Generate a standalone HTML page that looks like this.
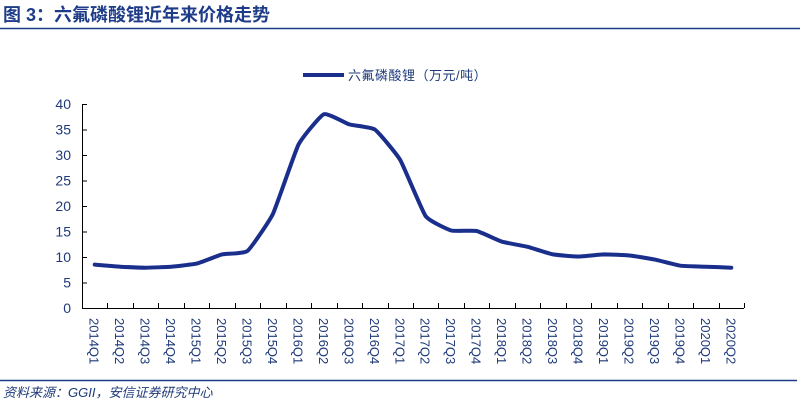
<!DOCTYPE html>
<html><head><meta charset="utf-8"><style>
body{margin:0;background:#fff;width:800px;height:407px;overflow:hidden;font-family:"Liberation Sans","Noto Sans CJK SC",sans-serif}
</style></head><body>
<svg id="s" width="800" height="407" xmlns="http://www.w3.org/2000/svg">
<text x="3" y="21" font-size="18" font-weight="bold" fill="#1f3c88" font-family="Liberation Sans, Noto Sans CJK SC, sans-serif">图 3：六氟磷酸锂近年来价格走势</text>
<line x1="0" y1="28.5" x2="800" y2="28.5" stroke="#1f3c88" stroke-width="1.5"/>
<line x1="303" y1="75" x2="344" y2="75" stroke="#1a2e8c" stroke-width="4"/>
<text x="348" y="80" font-size="13" fill="#1f3a7a" letter-spacing="0.5" font-family="Liberation Sans, Noto Sans CJK SC, sans-serif">六氟磷酸锂（万元/吨）</text>
<g id="ax" stroke="#000" stroke-width="1"></g>
<g id="lbl" fill="#1f3a7a" font-size="14"></g>
<path id="pl" fill="none" stroke="#1a2e8c" stroke-width="4" stroke-linejoin="round" stroke-linecap="round"/>
<line x1="0" y1="380.5" x2="797" y2="380.5" stroke="#1f3c88" stroke-width="1.5"/>
<text x="3" y="397" font-size="13" font-style="italic" fill="#1f3a7a" font-family="Liberation Sans, Noto Sans CJK SC, sans-serif">资料来源：GGII，安信证券研究中心</text>
</svg>
<script>
var ns="http://www.w3.org/2000/svg";
function el(t,a,p,txt){var e=document.createElementNS(ns,t);for(var k in a)e.setAttribute(k,a[k]);if(txt)e.textContent=txt;document.getElementById(p).appendChild(e);return e;}
var x0=82,x1=744,y0=308,sc=5.1,n=26,w=(x1-x0)/n;
el('line',{x1:x0+.5,y1:104,x2:x0+.5,y2:y0},'ax');
el('line',{x1:x0,y1:y0+.5,x2:x1,y2:y0+.5},'ax');
for(var v=0;v<=40;v+=5){var y=y0-v*sc;el('line',{x1:x0,y1:y+.5,x2:x0+5,y2:y+.5},'ax');
el('text',{x:71,y:y+5,'text-anchor':'end'},'lbl',String(v));}
var names=[];for(var yr=2014;yr<=2020;yr++)for(var q=1;q<=4;q++)names.push(yr+'Q'+q);names=names.slice(0,26);
for(var i=0;i<=n;i++){var x=Math.round(x0+i*w)+.5;el('line',{x1:x,y1:y0,x2:x,y2:y0-5},'ax');}
var vals=[8.5,8.1,7.9,8.1,8.7,10.5,11.2,18.5,32,38,36,35,29,18,15.2,15.1,13,12,10.5,10.1,10.5,10.3,9.5,8.3,8.1,7.9];
var P=[];
for(var i=0;i<n;i++){var cx=x0+w*(i+.5);P.push([cx,y0-vals[i]*sc]);
el('text',{x:0,y:0,transform:'translate('+(cx-5)+',318) rotate(90)','font-size':'13'},'lbl',names[i]);}
var d='M'+P[0][0].toFixed(1)+','+P[0][1].toFixed(1);var t=0.07;
for(var i=0;i<n-1;i++){var p0=P[Math.max(i-1,0)],p1=P[i],p2=P[i+1],p3=P[Math.min(i+2,n-1)];
var c1x=p1[0]+(p2[0]-p0[0])*t,c1y=p1[1]+(p2[1]-p0[1])*t,c2x=p2[0]-(p3[0]-p1[0])*t,c2y=p2[1]-(p3[1]-p1[1])*t;
d+=' C'+c1x.toFixed(1)+','+c1y.toFixed(1)+' '+c2x.toFixed(1)+','+c2y.toFixed(1)+' '+p2[0].toFixed(1)+','+p2[1].toFixed(1);}
document.getElementById('pl').setAttribute('d',d);
</script>
</body></html>
